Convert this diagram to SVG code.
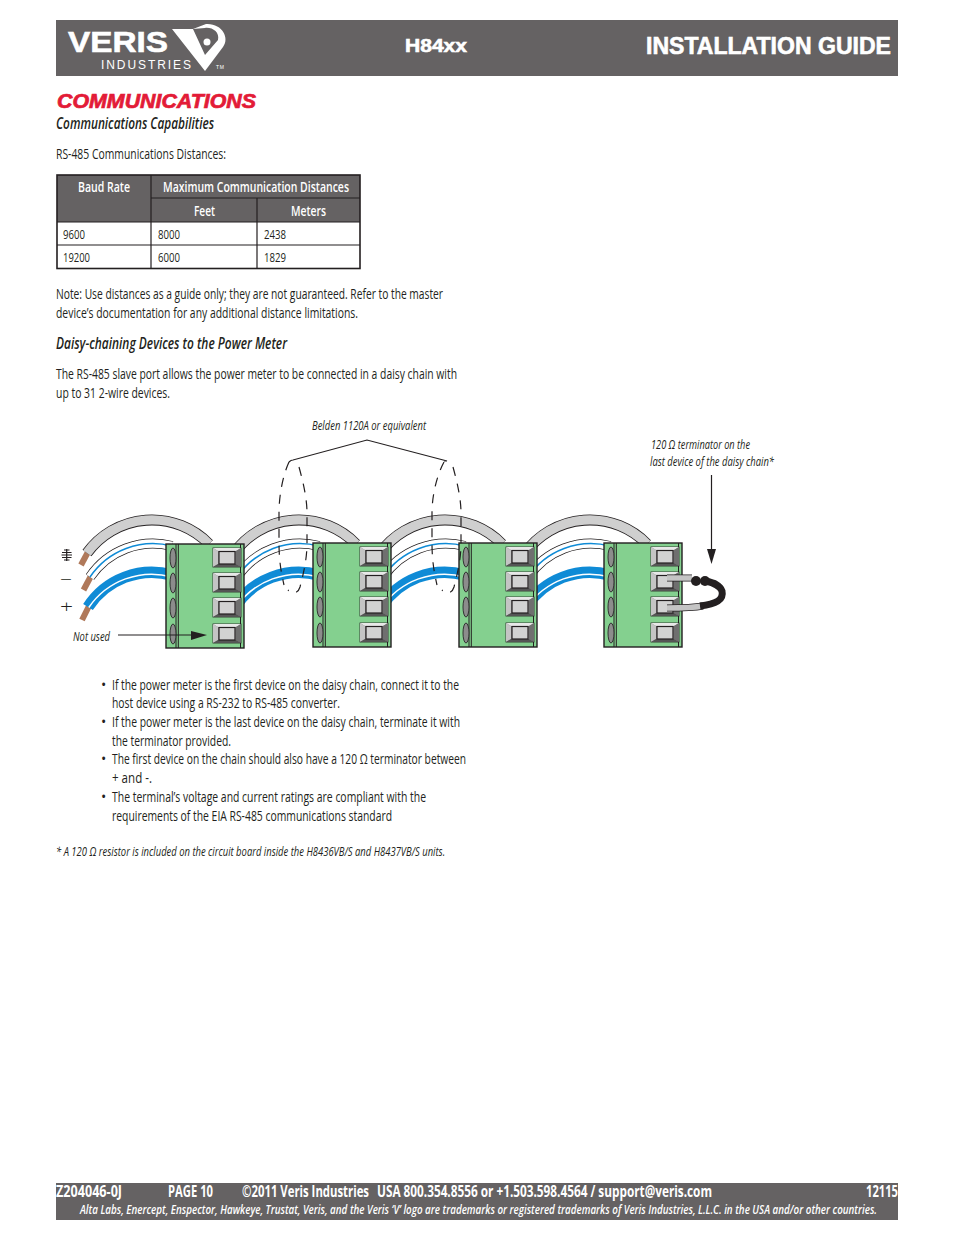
<svg xmlns="http://www.w3.org/2000/svg" width="954" height="1235" viewBox="0 0 954 1235">
<style>
text{font-family:"Open Sans","Liberation Sans",sans-serif;fill:#231f20}
.b{font-size:14px}
.i{font-size:12.5px;font-style:italic}
.h{font-size:16px;font-style:italic;font-weight:600}
.th{font-size:14px;font-weight:600;fill:#fff}
.td{font-size:12px}
.f1{font-size:16px;font-weight:700;fill:#fff}
.f2{font-size:12.5px;font-weight:600;font-style:italic;fill:#fff}
.ext{font-family:"Liberation Sans",sans-serif;font-weight:700;fill:#fff}
.heavy{stroke:#fff;stroke-width:.6}
.dash{fill:none;stroke:#231f20;stroke-width:1.2;stroke-dasharray:9 8}
.line{fill:none;stroke:#231f20;stroke-width:1.2}
.edge{fill:none;stroke-linecap:butt}
.cu{fill:none;stroke:#b0795a;stroke-width:6}
</style>
<defs>
<g id="wireset">
<path class="edge" d="M87,553 A80,80 0 0 1 209,544" stroke="#231f20" stroke-width="11"/>
<path class="edge" d="M87,553 A80,80 0 0 1 209,544" stroke="#cfcfcf" stroke-width="9.4"/>
<path class="edge" d="M90,577 A76,76 0 0 1 172,546" stroke="#231f20" stroke-width="10"/>
<path class="edge" d="M90,577 A76,76 0 0 1 172,546" stroke="#fff" stroke-width="8.6"/>
<path class="edge" d="M90,577 A76,76 0 0 1 172,546" stroke="#0f8bd6" stroke-width="1.5"/>
<path class="edge" d="M88,607 A76,76 0 0 1 172,575" stroke="#0f8bd6" stroke-width="11.5"/>
<path class="edge" d="M88.800,607.500 A76,76 0 0 1 172,577" stroke="#fff" stroke-width="1.5"/>
</g>
<g id="term">
<rect x="0" y="0" width="28" height="19" fill="#8f8f8f" stroke="#231f20" stroke-width=".8"/>
<polygon points="0,0 28,0 23,3 5,3" fill="#e8e8e8"/>
<polygon points="0,0 5,3 5,16 0,19" fill="#c4c4c4"/>
<polygon points="28,0 23,3 23,16 28,19" fill="#6f6f6f"/>
<polygon points="0,19 5,16 23,16 28,19" fill="#555"/>
<rect x="6" y="3.500" width="16" height="12.500" fill="#d2d2d2" stroke="#231f20" stroke-width="1.2"/>
</g>
<ellipse id="slot" cx="0" cy="0" rx="3" ry="10" fill="#8c8c8c" stroke="#333" stroke-width="1"/>
<g id="device">
<rect x="0" y="0" width="78" height="104" fill="#84d08f" stroke="#231f20" stroke-width="1.4"/>
<path d="M10,0V104M12.300,0V104M74.500,0V104" stroke="#231f20" stroke-width="1" fill="none"/>
<use href="#slot" x="7" y="14"/><use href="#slot" x="7" y="39"/><use href="#slot" x="7" y="64"/><use href="#slot" x="7" y="90"/>
<use href="#term" x="47" y="4"/><use href="#term" x="47" y="29"/><use href="#term" x="47" y="54"/><use href="#term" x="47" y="80"/>
</g>
</defs>
<rect width="954" height="1235" fill="#fff"/>

<g id="header">
<rect x="56" y="20" width="842" height="56" fill="#656263"/>
<text class="ext heavy" x="68" y="52" font-size="30" textLength="100" lengthAdjust="spacingAndGlyphs">VERIS</text>
<text class="ext" style="font-weight:400" x="101" y="68.500" font-size="12" textLength="90" lengthAdjust="spacing">INDUSTRIES</text>
<path d="M172,29 L193,29 L206,24 C222,23 230,38 223,47 L205,71 Z" fill="#fff"/>
<path d="M193,29 L205,55 L218,40 C220,32 212,27 205,28 Z" fill="#656263"/>
<circle cx="207" cy="42" r="3.500" fill="#fff"/>
<text class="ext" x="216" y="69" font-size="5" textLength="8" style="font-weight:400">TM</text>
<text class="ext heavy" x="405" y="52" font-size="18" textLength="62" lengthAdjust="spacingAndGlyphs">H84xx</text>
<text class="ext heavy" x="646" y="54" font-size="23" textLength="245" lengthAdjust="spacingAndGlyphs">INSTALLATION GUIDE</text>
</g>

<g id="intro">
<text x="57" y="108" style="font-family:'Liberation Sans',sans-serif;font-weight:700;font-style:italic;fill:#e31b37;stroke:#e31b37;stroke-width:.7" font-size="20" textLength="199" lengthAdjust="spacingAndGlyphs">COMMUNICATIONS</text>
<text class="h" x="56" y="129" textLength="158" lengthAdjust="spacingAndGlyphs">Communications Capabilities</text>
<text class="b" x="56" y="159" textLength="170" lengthAdjust="spacingAndGlyphs">RS-485 Communications Distances:</text>
</g>

<g id="table">
<rect x="57" y="175" width="303" height="47" fill="#656263"/>
<rect x="57" y="175" width="303" height="93.500" fill="none" stroke="#231f20" stroke-width="1.600"/>
<path d="M151,175V268.500M257,198V268.500M151,198H360M57,222H360M57,245H360" fill="none" stroke="#231f20" stroke-width="1.200"/>
<text class="th" x="78" y="192" textLength="52" lengthAdjust="spacingAndGlyphs">Baud Rate</text>
<text class="th" x="163" y="192" textLength="186" lengthAdjust="spacingAndGlyphs">Maximum Communication Distances</text>
<text class="th" x="194" y="216" textLength="21" lengthAdjust="spacingAndGlyphs">Feet</text>
<text class="th" x="291" y="216" textLength="35" lengthAdjust="spacingAndGlyphs">Meters</text>
<text class="td" x="63" y="239" textLength="22" lengthAdjust="spacingAndGlyphs">9600</text>
<text class="td" x="158" y="239" textLength="22" lengthAdjust="spacingAndGlyphs">8000</text>
<text class="td" x="264" y="239" textLength="22" lengthAdjust="spacingAndGlyphs">2438</text>
<text class="td" x="63" y="262" textLength="27" lengthAdjust="spacingAndGlyphs">19200</text>
<text class="td" x="158" y="262" textLength="22" lengthAdjust="spacingAndGlyphs">6000</text>
<text class="td" x="264" y="262" textLength="22" lengthAdjust="spacingAndGlyphs">1829</text>
</g>

<g id="notes">
<text class="b" x="56" y="299" textLength="387" lengthAdjust="spacingAndGlyphs">Note: Use distances as a guide only; they are not guaranteed. Refer to the master</text>
<text class="b" x="56" y="318" textLength="302" lengthAdjust="spacingAndGlyphs">device’s documentation for any additional distance limitations.</text>
<text class="h" x="56" y="349" textLength="231" lengthAdjust="spacingAndGlyphs">Daisy-chaining Devices to the Power Meter</text>
<text class="b" x="56" y="379" textLength="401" lengthAdjust="spacingAndGlyphs">The RS-485 slave port allows the power meter to be connected in a daisy chain with</text>
<text class="b" x="56" y="398" textLength="114" lengthAdjust="spacingAndGlyphs">up to 31 2-wire devices.</text>
</g>

<g id="wires">
<path class="cu" d="M88,552 L81,565"/>
<path class="cu" d="M91,576 L83.500,590"/>
<path class="cu" d="M90,604 L82,620"/>
<use href="#wireset"/>
<use href="#wireset" x="147"/>
<use href="#wireset" x="293"/>
<use href="#wireset" x="438"/>
</g>

<g id="device-1"><use href="#device" x="166" y="544"/></g>
<g id="device-2"><use href="#device" x="313" y="543"/></g>
<g id="device-3"><use href="#device" x="459" y="543"/></g>
<g id="device-4"><use href="#device" x="604" y="543"/></g>

<g id="terminator">
<path d="M667,578 H692" stroke="#231f20" stroke-width="7" fill="none"/>
<path d="M667,578 H692" stroke="#c4c4c4" stroke-width="5.500" fill="none"/>
<path d="M667,608 C680,608 692,608 703,606" stroke="#231f20" stroke-width="7" fill="none"/>
<path d="M667,608 C680,608 692,608 703,606" stroke="#c4c4c4" stroke-width="5.500" fill="none"/>
<path d="M700,606 C716,604 724,600 722,591 C720,585 714,583 706,581" stroke="#231f20" stroke-width="7" fill="none"/>
<circle cx="696" cy="581" r="5" fill="#231f20"/>
<circle cx="705" cy="581" r="5" fill="#231f20"/>
</g>

<g id="connectors">
<path class="line" d="M289,462 Q291,460 293,460 L367,440 L447,461 L444,461"/>
<path class="dash" d="M289,462 C283,475 279,495 279,513 L279,543 C279,560 281,572 284,585"/>
<path class="dash" d="M299,467 C304,485 307,500 307,513 L307,543 C307,560 303,575 300,587 C298,594 292,594 288,590"/>
<path class="dash" d="M444,462 C437,475 432,495 432,513 L432,543 C432,560 434,572 437,585"/>
<path class="dash" d="M453,467 C458,485 461,500 461,513 L461,543 C461,560 457,575 454,587 C452,594 446,594 442,590"/>
<path class="line" d="M118,635 H195"/>
<polygon points="191,631 191,640 207,635" fill="#231f20"/>
<path class="line" d="M711.500,475 V552"/>
<polygon points="707,549 716,549 711.500,564" fill="#231f20"/>
</g>

<g id="labels">
<text class="i" x="312" y="430" textLength="114" lengthAdjust="spacingAndGlyphs">Belden 1120A or equivalent</text>
<text class="i" x="651" y="449" textLength="99" lengthAdjust="spacingAndGlyphs">120 Ω terminator on the</text>
<text class="i" x="650" y="466" textLength="124" lengthAdjust="spacingAndGlyphs">last device of the daisy chain*</text>
<text class="i" x="73" y="641" textLength="37" lengthAdjust="spacingAndGlyphs">Not used</text>
<path d="M66.700,549V561M64,550H69.500M62,552.500H71.500M61.500,555H72M62,557.500H71.500M64,560H69.500" stroke="#231f20" stroke-width="1.200" fill="none"/>
<text x="60" y="586" font-size="18" textLength="12" lengthAdjust="spacingAndGlyphs" style="font-weight:300">−</text>
<text x="60" y="613" font-size="18" textLength="13" lengthAdjust="spacingAndGlyphs" style="font-weight:300">+</text>
</g>

<g id="bullets">
<text class="b" x="101" y="690">•</text>
<text class="b" x="112" y="690" textLength="347" lengthAdjust="spacingAndGlyphs">If the power meter is the first device on the daisy chain, connect it to the</text>
<text class="b" x="112" y="708" textLength="228" lengthAdjust="spacingAndGlyphs">host device using a RS-232 to RS-485 converter.</text>
<text class="b" x="101" y="727">•</text>
<text class="b" x="112" y="727" textLength="348" lengthAdjust="spacingAndGlyphs">If the power meter is the last device on the daisy chain, terminate it with</text>
<text class="b" x="112" y="746" textLength="119" lengthAdjust="spacingAndGlyphs">the terminator provided.</text>
<text class="b" x="101" y="764">•</text>
<text class="b" x="112" y="764" textLength="354" lengthAdjust="spacingAndGlyphs">The first device on the chain should also have a 120 Ω terminator between</text>
<text class="b" x="112" y="783" textLength="40" lengthAdjust="spacingAndGlyphs">+ and -.</text>
<text class="b" x="101" y="802">•</text>
<text class="b" x="112" y="802" textLength="314" lengthAdjust="spacingAndGlyphs">The terminal’s voltage and current ratings are compliant with the</text>
<text class="b" x="112" y="821" textLength="280" lengthAdjust="spacingAndGlyphs">requirements of the EIA RS-485 communications standard</text>
<text class="i" x="56" y="856" textLength="389" lengthAdjust="spacingAndGlyphs">* A 120 Ω resistor is included on the circuit board inside the  H8436VB/S and H8437VB/S units.</text>
</g>

<g id="footer">
<rect x="56" y="1183" width="842" height="37" fill="#656263"/>
<text class="f1" transform="translate(56,1197) scale(.72,1)" textLength="91.700" lengthAdjust="spacingAndGlyphs">Z204046-0J</text>
<text class="f1" transform="translate(168,1197) scale(.72,1)" textLength="62.500" lengthAdjust="spacingAndGlyphs">PAGE 10</text>
<text class="f1" transform="translate(242,1197) scale(.72,1)" textLength="176.400" lengthAdjust="spacingAndGlyphs">©2011 Veris Industries</text>
<text class="f1" transform="translate(377,1197) scale(.68,1)" textLength="492.600" lengthAdjust="spacingAndGlyphs">USA 800.354.8556 or +1.503.598.4564  / support@veris.com</text>
<text class="f1" transform="translate(866,1197) scale(.72,1)" textLength="44.400" lengthAdjust="spacingAndGlyphs">12115</text>
<text class="f2" transform="translate(80,1214) scale(.68,1)" textLength="1172" lengthAdjust="spacingAndGlyphs">Alta Labs, Enercept, Enspector, Hawkeye, Trustat, Veris, and the Veris ‘V’ logo are trademarks or registered trademarks of  Veris Industries, L.L.C. in the USA and/or other countries.</text>
</g>
</svg>
